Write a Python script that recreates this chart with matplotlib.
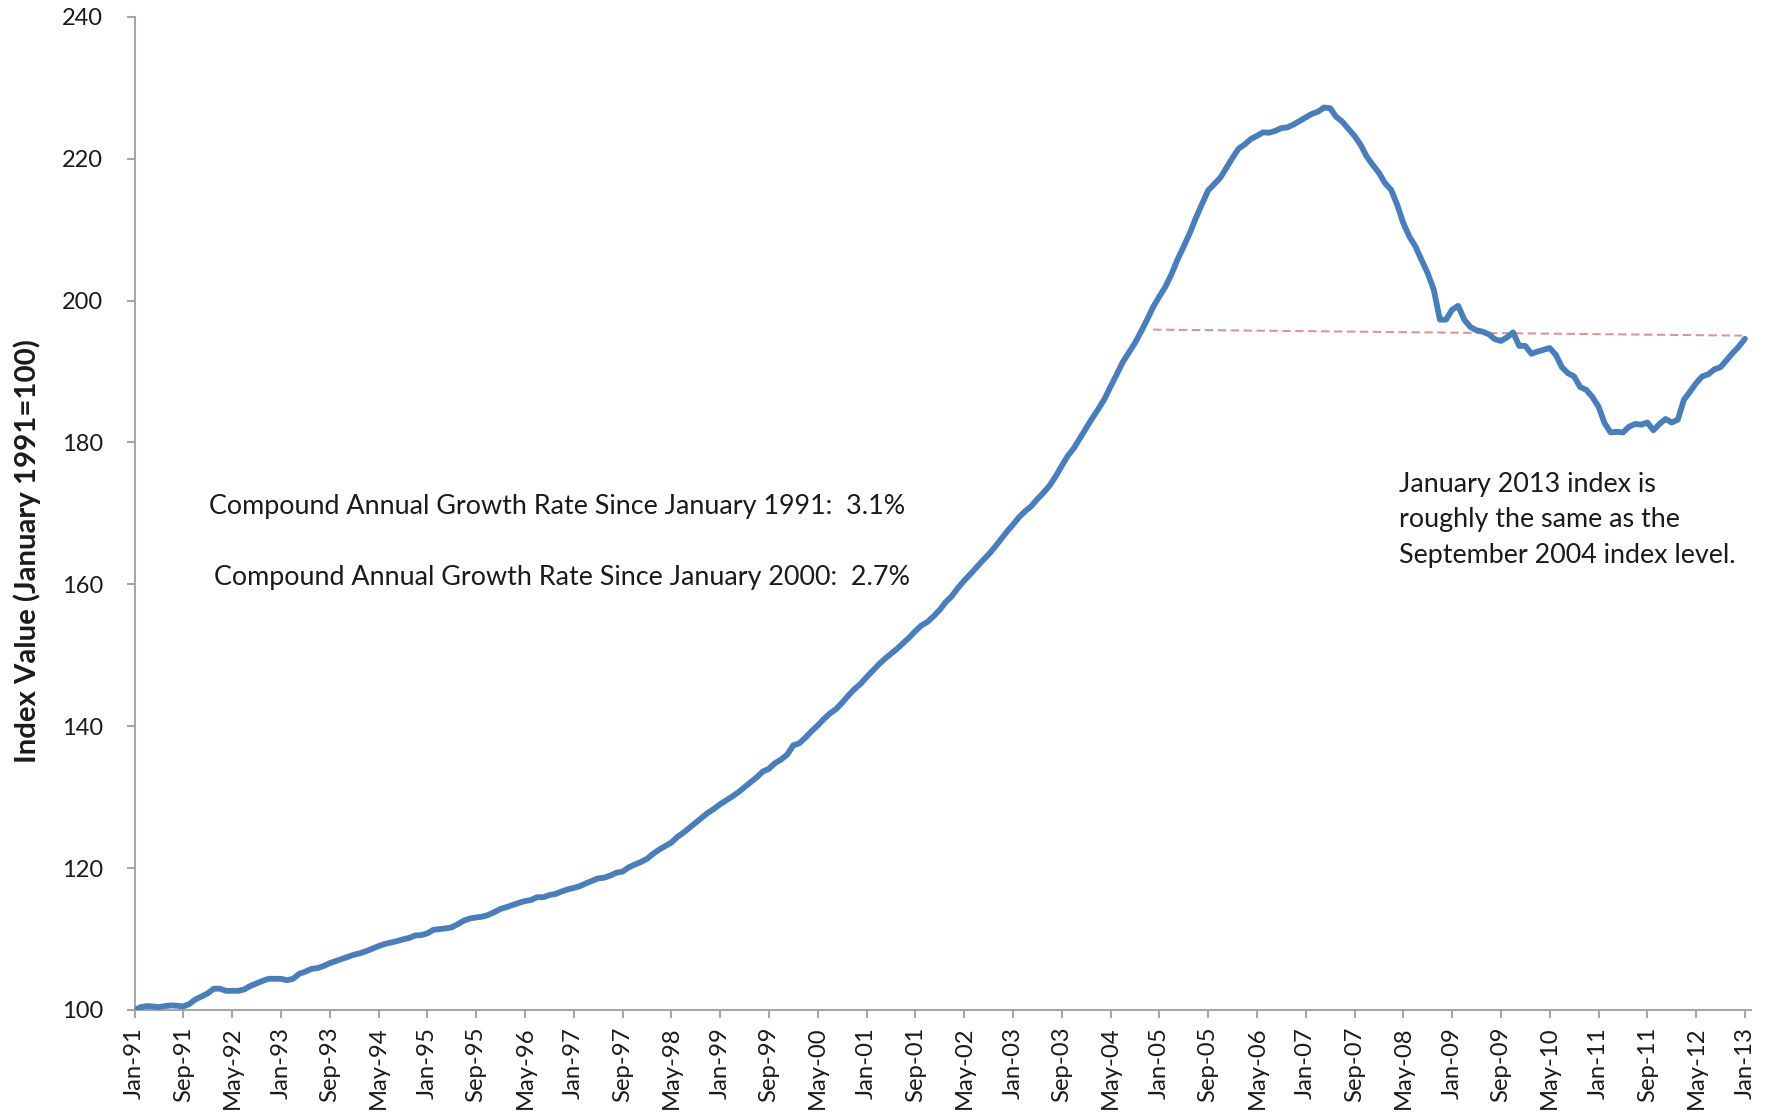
import matplotlib
matplotlib.use("Agg")
import matplotlib.pyplot as plt
import numpy as np

plt.rcParams['font.family'] = ['Lato', 'DejaVu Sans']

# Monthly index values, Jan-1991 .. Jan-2013 (January 1991 = 100)
index_values = [
    # 1991-1994 (months 0-45)
    100.0, 100.4, 100.55, 100.5, 100.4, 100.55, 100.65, 100.6, 100.5, 100.85,
    101.5, 101.9, 102.35, 103.0, 103.0, 102.7, 102.7, 102.7, 102.9, 103.4,
    103.75, 104.1, 104.4, 104.4, 104.4, 104.2, 104.4, 105.1, 105.4, 105.8,
    105.9, 106.2, 106.6, 106.9, 107.2, 107.5, 107.8, 108.0, 108.3, 108.65,
    109.0, 109.3, 109.5, 109.7, 109.95, 110.15,
    # months 46-89
    110.5, 110.55, 110.8, 111.3, 111.4, 111.5, 111.65, 112.1, 112.6, 112.9,
    113.05, 113.15, 113.4, 113.8, 114.25, 114.5, 114.8, 115.1, 115.35, 115.5,
    115.9, 115.9, 116.2, 116.35, 116.7, 117.0, 117.2, 117.45, 117.85, 118.2,
    118.55, 118.65, 118.95, 119.35, 119.5, 120.1, 120.5, 120.85, 121.3, 122.0,
    122.6, 123.1, 123.6, 124.4,
    # months 90-133
    125.0, 125.7, 126.4, 127.1, 127.8, 128.35, 129.0, 129.55, 130.1, 130.7,
    131.4, 132.1, 132.8, 133.6, 134.0, 134.8, 135.3, 136.0, 137.3, 137.6,
    138.4, 139.3, 140.1, 141.0, 141.8, 142.4, 143.3, 144.3, 145.2, 145.95,
    146.9, 147.8, 148.7, 149.5, 150.2, 150.9, 151.7, 152.5, 153.4, 154.2,
    154.7, 155.5, 156.4, 157.5,
    # months 134-177
    158.35, 159.5, 160.5, 161.4, 162.35, 163.3, 164.2, 165.2, 166.3, 167.4,
    168.4, 169.45, 170.3, 171.0, 172.0, 172.9, 173.9, 175.2, 176.7, 178.1,
    179.2, 180.6, 182.0, 183.4, 184.7, 186.1, 187.85, 189.55, 191.3, 192.65,
    194.0, 195.6, 197.3, 199.1, 200.55, 201.95, 203.7, 205.8, 207.6, 209.5,
    211.65, 213.6, 215.5, 216.4,
    # months 178-222
    217.3, 218.7, 220.1, 221.4, 222.0, 222.75, 223.2, 223.7, 223.65, 223.9,
    224.3, 224.4, 224.8, 225.3, 225.8, 226.3, 226.6, 227.2, 227.1, 225.9,
    225.2, 224.2, 223.2, 221.95, 220.3, 219.1, 218.0, 216.55, 215.6, 213.5,
    210.9, 209.0, 207.6, 205.7, 203.85, 201.5, 197.3, 197.3, 198.7, 199.25,
    197.3, 196.25, 195.8, 195.6, 195.25,
    # months 223-264
    194.55, 194.3, 194.8, 195.5, 193.6, 193.6, 192.5, 192.8, 193.05, 193.3,
    192.35, 190.6, 189.75, 189.3, 187.8, 187.4, 186.4, 185.05, 182.7, 181.4,
    181.5, 181.4, 182.2, 182.6, 182.5, 182.8, 181.7, 182.6, 183.3, 182.8,
    183.2, 186.0, 187.15, 188.35, 189.3, 189.6, 190.3, 190.6, 191.6, 192.6,
    193.5, 194.6,
]

tick_labels = [
    "Jan-91", "Sep-91", "May-92", "Jan-93", "Sep-93", "May-94", "Jan-95",
    "Sep-95", "May-96", "Jan-97", "Sep-97", "May-98", "Jan-99", "Sep-99",
    "May-00", "Jan-01", "Sep-01", "May-02", "Jan-03", "Sep-03", "May-04",
    "Jan-05", "Sep-05", "May-06", "Jan-07", "Sep-07", "May-08", "Jan-09",
    "Sep-09", "May-10", "Jan-11", "Sep-11", "May-12", "Jan-13",
]
tick_step_months = 8

# Reference line: September 2004 level carried forward
ref_x = [167, 263.5]
ref_y = [195.9, 195.05]

y_ticks = [100, 120, 140, 160, 180, 200, 220, 240]

W, H = 1773, 1112
fig = plt.figure(figsize=(W / 100, H / 100), dpi=100)
ax = fig.add_axes([134.5 / W, 1 - 1010 / H, (1751 - 134.5) / W, (1010 - 16.7) / H])

months = np.arange(len(index_values))
ax.plot(months, index_values, color="#4A7EBB", lw=4.2, solid_joinstyle="round",
        solid_capstyle="round", zorder=3)
ax.plot(ref_x, ref_y, color="#D99694", lw=1.5, ls=(0, (4, 2.2)), zorder=2)

ax.set_xlim(0, 265)
ax.set_ylim(100, 240)
ax.set_yticks(y_ticks)
ax.set_yticklabels([str(v) for v in y_ticks])
ax.set_xticks(np.arange(len(tick_labels)) * tick_step_months)
ax.set_xticklabels(tick_labels, rotation=90)

spine_color = "#A6A6A6"
for s in ["top", "right"]:
    ax.spines[s].set_visible(False)
for s in ["left", "bottom"]:
    ax.spines[s].set_color(spine_color)
    ax.spines[s].set_linewidth(1.5)

ax.tick_params(axis="y", direction="out", length=6, width=1.5, color=spine_color,
               labelsize=17, labelcolor="#1a1a1a", pad=16.5)
ax.tick_params(axis="x", direction="out", length=6, width=1.5, color=spine_color,
               labelsize=17.2, labelcolor="#1a1a1a", pad=6)

fig.text(27 / W, 1 - 551 / H, "Index Value (January 1991=100)", rotation=90,
         ha="center", va="center", fontsize=21.2, fontweight="bold", color="#1a1a1a")

fig.text(209 / W, 1 - 507 / H, "Compound Annual Growth Rate Since January 1991:  3.1%",
         ha="left", va="center", fontsize=19.35, color="#1a1a1a")
fig.text(214 / W, 1 - 578 / H, "Compound Annual Growth Rate Since January 2000:  2.7%",
         ha="left", va="center", fontsize=19.35, color="#1a1a1a")

fig.text(1399 / W, 1 - 520 / H,
         "January 2013 index is\nroughly the same as the\nSeptember 2004 index level.",
         ha="left", va="center", fontsize=19.35, color="#1a1a1a", linespacing=1.54)

fig.savefig("out.png", dpi=100)
